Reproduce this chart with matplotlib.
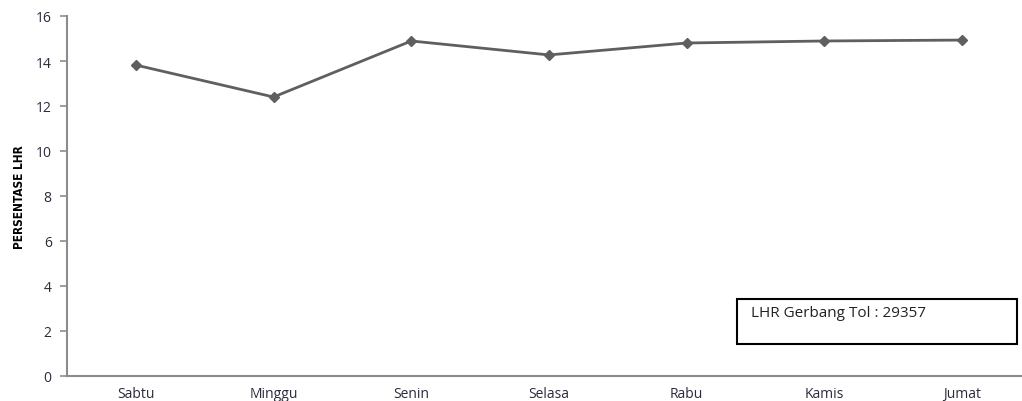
import matplotlib
matplotlib.use("Agg")
import matplotlib.pyplot as plt
from matplotlib.patches import Rectangle

days = ["Sabtu", "Minggu", "Senin", "Selasa", "Rabu", "Kamis", "Jumat"]
persen = [13.82, 12.40, 14.89, 14.27, 14.80, 14.89, 14.93]
yticks = [0, 2, 4, 6, 8, 10, 12, 14, 16]
ylabel = "PERSENTASE LHR"
note = "LHR Gerbang Tol : 29357"

W, H = 1022, 402
fig = plt.figure(figsize=(W / 100, H / 100), dpi=100)
# axes from x=67 to 1031 px, y from 377 to 17 px
ax = fig.add_axes([67 / W, (H - 377) / H, (1031 - 67) / W, (377 - 17) / H])
x = list(range(len(days)))
ax.plot(x, persen, color="#5f5f5f", lw=2.0, marker="D", ms=5, mfc="#5f5f5f", mec="#5f5f5f")
ax.set_xlim(-0.5, len(days) - 0.5)
ax.set_ylim(0, 16)
ax.set_yticks(yticks)
ax.set_xticks(x)
ax.set_xticklabels(days)
for s in ["top", "right"]:
    ax.spines[s].set_visible(False)
for s in ["left", "bottom"]:
    ax.spines[s].set_color("#8c8c8c")
    ax.spines[s].set_linewidth(1.5)
ax.tick_params(axis="y", direction="out", length=5, color="#8c8c8c", width=1.2,
               labelsize=10, labelcolor="#2b2b3b", pad=6)
ax.tick_params(axis="x", length=0, labelsize=10, labelcolor="#2b2b3b", pad=7)
for lab in ax.get_xticklabels() + ax.get_yticklabels():
    lab.set_family(["Open Sans", "DejaVu Sans"])
ax.set_ylabel(ylabel, family=["DejaVu Sans"], fontstretch="condensed", fontweight="bold",
              fontsize=8.5, labelpad=7)

# note box in figure pixel coords
fig.patches.append(Rectangle((737 / W, (H - 345) / H), (1017 - 737) / W, 45 / H,
                             transform=fig.transFigure, fill=False, ec="black", lw=1.5))
fig.text(751 / W, (H - 314) / H, note, family=["Open Sans", "DejaVu Sans"], fontsize=11,
         color="#222222", va="center", ha="left")

fig.savefig("out.png", dpi=100)
